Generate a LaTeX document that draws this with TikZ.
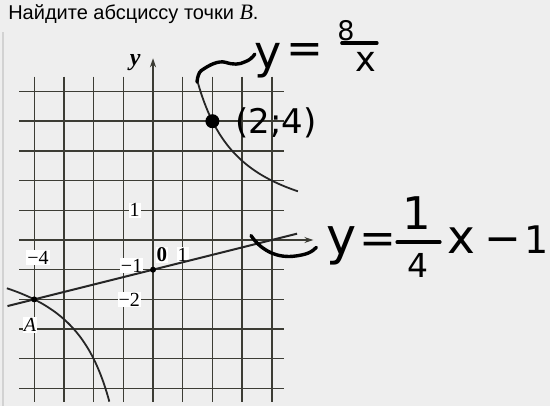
\documentclass[tikz,border=0pt]{standalone}
\usepackage{fontspec}
\setmainfont{Liberation Serif}
\newfontfamily\sansf{Liberation Sans}
\newfontfamily\hand{DejaVu Sans}
\usetikzlibrary{arrows.meta}
\definecolor{bgc}{HTML}{EEEEEE}
\definecolor{gridc}{HTML}{3C3C34}
\definecolor{framec}{HTML}{D2D2D2}
\tikzset{
  gridline/.style={gridc, line width=1.4pt},
  axisline/.style={gridc, line width=2.2pt, -{Stealth[length=9pt,width=6pt]}},
  curveline/.style={black!85, line width=1.8pt},
  smalldot/.style={circle, fill=black, inner sep=0pt, minimum size=6pt},
  bigdot/.style={circle, fill=black, inner sep=0pt, minimum size=14pt},
  lab/.style={fill=white, inner sep=1pt, font=\fontsize{20}{21}\selectfont},
  hw/.style={inner sep=0pt, anchor=base, font=\hand\fontsize{#1}{#1}\selectfont},
  hwstroke/.style={black, line width=3.4pt, line cap=round, line join=round},
}
\begin{document}
\begin{tikzpicture}[x=29.7pt,y=29.7pt]
\fill[bgc] (-5.152,-5.589) rectangle (13.367,8.081);
\useasboundingbox (-5.152,-5.589) rectangle (13.367,8.081);
% frame line
\draw[framec, line width=1.2pt] (-5.05,6.99) -- (-5.05,-5.589);
% title
\node[anchor=base west, inner sep=0pt, font=\sansf\fontsize{20}{22}\selectfont] (title) at (-4.88,7.41) {Найдите абсциссу точки {\rmfamily\itshape\fontsize{22}{22}\selectfont B}.};
% grid
\foreach \x in {-4,-3,-2,-1,1,2,3,4} \draw[gridline] (\x,5.5) -- (\x,-5.45);
\foreach \y in {-5,-4,-3,-2,-1,1,2,3,4,5} \draw[gridline] (-4.5,\y) -- (4.4,\y);
% axes
\draw[axisline] (-4.5,0) -- (5.4,0);
\draw[axisline] (0,-5.45) -- (0,6.12);
% labels
\node[lab] (l1) at (-0.62,1) {1};
\node[lab] (lm1) at (-0.72,-0.87) {−1};
\node[lab] (lm2) at (-0.8,-2) {−2};
\node[lab] (lm4) at (-3.87,-0.6) {−4};
\node[lab, font=\bfseries\fontsize{21}{21}\selectfont] (l0) at (0.3,-0.5) {0};
\node[lab] (lx1) at (1,-0.5) {1};
\node[inner sep=0pt, font=\bfseries\itshape\fontsize{24}{24}\selectfont] (ylab) at (-0.6,5.98) {y};
\node[lab] (Alab) at (-4.14,-2.86) {\itshape A};
% line y = x/4 - 1
\coordinate (L1) at (-4.9,-2.225);
\coordinate (L2) at (4.85,0.2125);
\draw[curveline, line width=2pt] (L1) -- (L2);
% hyperbola y = 8/x
\draw[curveline] plot[domain=1.48:4.88, samples=80] (\x,{8/\x});
\draw[curveline] plot[domain=-4.92:-1.47, samples=80] (\x,{8/\x});
% points
\node[smalldot] (A) at (-4,-2) {};
\node[smalldot] (C) at (0,-1) {};
\node[bigdot] (P) at (2,4) {};
% handwriting: y = 8/x
\draw[hwstroke] (1.48,5.32) .. controls (1.5,5.5) and (1.55,5.65) .. (1.62,5.7)
  .. controls (1.9,5.9) and (2.2,6.05) .. (2.45,5.98)
  .. controls (2.7,5.9) and (2.9,5.9) .. (3.1,6.0)
  .. controls (3.25,6.05) and (3.35,6.15) .. (3.43,6.26);
\node[hw=46] (y1) at (3.87,5.79) {y};
\node[hw=44] (eq1) at (5.12,5.93) {=};
\node[hw=27] (n8) at (6.5,6.73) {8};
\coordinate (b1a) at (6.36,6.63);
\coordinate (b1b) at (7.54,6.63);
\draw[hwstroke] (b1a) -- (b1b);
\node[hw=35] (dx) at (7.17,5.66) {x};
\node[hw=34] (pt) at (4.14,3.6) {(2;4)};
% handwriting: y = 1/4 x - 1
\draw[hwstroke] (3.3,0.15) .. controls (3.6,-0.3) and (4.1,-0.6) .. (4.7,-0.55)
  .. controls (5.2,-0.5) and (5.35,-0.4) .. (5.5,-0.25);
\node[hw=51] (y2) at (6.36,-0.5) {y};
\node[hw=44] (eq2) at (7.58,-0.44) {=};
\node[hw=45] (n1) at (8.89,0.34) {1};
\coordinate (b2a) at (8.22,-0.07);
\coordinate (b2b) at (9.66,-0.07);
\draw[hwstroke] (b2a) -- (b2b);
\node[hw=33] (n4) at (8.92,-1.25) {4};
\node[hw=47] (x2) at (10.4,-0.44) {x};
\node[hw=44] (mi) at (11.78,-0.45) {\char"2212};
\node[hw=38] (one) at (12.92,-0.44) {1};
\end{tikzpicture}
\end{document}
